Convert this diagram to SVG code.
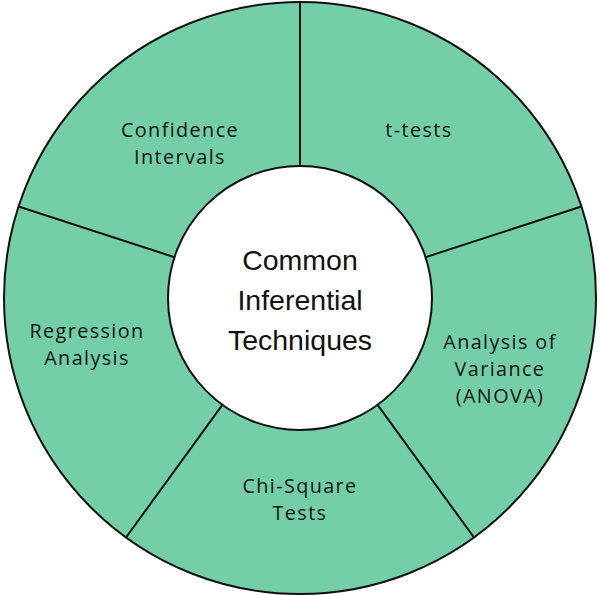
<svg xmlns="http://www.w3.org/2000/svg" width="600" height="595" viewBox="0 0 600 595">
<style>
.seg{fill:#74cfa9;stroke:#111;stroke-width:2}
.lbl{font-family:"Open Sans","Noto Sans",sans-serif;font-size:19.8px;fill:#141414;text-anchor:middle;letter-spacing:1.4px}
.ctr{font-family:"Liberation Sans",Arial,sans-serif;font-size:28.5px;fill:#111;text-anchor:middle}
</style>
<rect width="600" height="595" fill="#fff"/>
<g id="ring">
<circle class="seg" cx="300" cy="298" r="296"/>
</g>
<g id="connectors" stroke="#111" stroke-width="2">
<line x1="300" y1="2" x2="300" y2="166"/>
<line x1="581.5" y1="206.5" x2="425.5" y2="257.2"/>
<line x1="474" y1="537.5" x2="377.6" y2="404.8"/>
<line x1="126" y1="537.5" x2="222.4" y2="404.8"/>
<line x1="18.5" y1="206.5" x2="174.5" y2="257.2"/>
</g>
<g id="confidence-intervals">
<text class="lbl" x="180" y="137">Confidence</text>
<text class="lbl" x="180" y="164.2">Intervals</text>
</g>
<g id="t-tests">
<text class="lbl" x="419" y="137">t-tests</text>
</g>
<g id="anova">
<text class="lbl" x="500" y="348.5">Analysis of</text>
<text class="lbl" x="500" y="375.7">Variance</text>
<text class="lbl" x="500" y="402.9">(ANOVA)</text>
</g>
<g id="chi-square">
<text class="lbl" x="300" y="493">Chi-Square</text>
<text class="lbl" x="300" y="520.2">Tests</text>
</g>
<g id="regression">
<text class="lbl" x="87" y="338">Regression</text>
<text class="lbl" x="87" y="365.2">Analysis</text>
</g>
<g id="center">
<circle cx="300" cy="298" r="132" fill="#fff" stroke="#111" stroke-width="2"/>
<text class="ctr" x="300" y="270">Common</text>
<text class="ctr" x="300" y="310">Inferential</text>
<text class="ctr" x="300" y="350">Techniques</text>
</g>
</svg>
